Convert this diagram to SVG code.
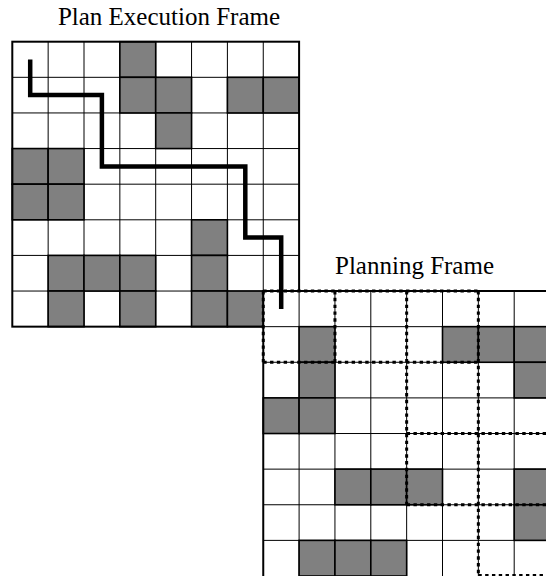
<svg xmlns="http://www.w3.org/2000/svg" width="546" height="576" viewBox="0 0 546 576">
<style>
.bg{fill:#fff}
.grid{stroke:#000;stroke-width:1;fill:none}
.obs{fill:#808080;stroke:#000;stroke-width:1.6}
.border{stroke:#000;stroke-width:2;fill:none}
.dot{stroke:#000;stroke-width:3;stroke-dasharray:3.4 3.4;fill:none}
.route{stroke:#000;stroke-width:4.5;fill:none;stroke-linecap:butt;stroke-linejoin:miter}
.label{font-family:"Liberation Serif","Times New Roman",serif;font-size:25px;fill:#000;text-anchor:middle}
</style>
<defs>
<rect id="c" width="35.85" height="35.62" class="obs"/>
</defs>
<rect x="0" y="0" width="546" height="576" fill="#fff"/>

<g id="plan-execution-frame">
<text class="label" x="169" y="25">Plan Execution Frame</text>
<rect class="bg" x="12.3" y="41.7" width="286.8" height="284.96"/>
<path class="grid" d="M48.15 41.7V326.66M84 41.7V326.66M119.85 41.7V326.66M155.7 41.7V326.66M191.55 41.7V326.66M227.4 41.7V326.66M263.25 41.7V326.66M12.3 77.32H299.1M12.3 112.94H299.1M12.3 148.56H299.1M12.3 184.18H299.1M12.3 219.8H299.1M12.3 255.42H299.1M12.3 291.04H299.1"/>
<use href="#c" x="119.85" y="41.7"/>
<use href="#c" x="119.85" y="77.32"/>
<use href="#c" x="155.7" y="77.32"/>
<use href="#c" x="227.4" y="77.32"/>
<use href="#c" x="263.25" y="77.32"/>
<use href="#c" x="155.7" y="112.94"/>
<use href="#c" x="12.3" y="148.56"/>
<use href="#c" x="48.15" y="148.56"/>
<use href="#c" x="12.3" y="184.18"/>
<use href="#c" x="48.15" y="184.18"/>
<use href="#c" x="191.55" y="219.8"/>
<use href="#c" x="48.15" y="255.42"/>
<use href="#c" x="84" y="255.42"/>
<use href="#c" x="119.85" y="255.42"/>
<use href="#c" x="191.55" y="255.42"/>
<use href="#c" x="48.15" y="291.04"/>
<use href="#c" x="119.85" y="291.04"/>
<use href="#c" x="191.55" y="291.04"/>
<use href="#c" x="227.4" y="291.04"/>
<rect class="border" x="12.3" y="41.7" width="286.8" height="284.96"/>
</g>

<g id="planning-frame">
<text class="label" x="414.5" y="274">Planning Frame</text>
<rect class="bg" x="263.25" y="291.04" width="283" height="285"/>
<path class="grid" d="M299.1 291.04V576M334.95 291.04V576M370.8 291.04V576M406.65 291.04V576M442.5 291.04V576M478.35 291.04V576M514.2 291.04V576M263.25 326.66H546M263.25 362.28H546M263.25 397.9H546M263.25 433.52H546M263.25 469.14H546M263.25 504.76H546M263.25 540.38H546"/>
<use href="#c" x="299.1" y="326.66"/>
<use href="#c" x="442.5" y="326.66"/>
<use href="#c" x="478.35" y="326.66"/>
<use href="#c" x="514.2" y="326.66"/>
<use href="#c" x="299.1" y="362.28"/>
<use href="#c" x="514.2" y="362.28"/>
<use href="#c" x="263.25" y="397.9"/>
<use href="#c" x="299.1" y="397.9"/>
<use href="#c" x="334.95" y="469.14"/>
<use href="#c" x="370.8" y="469.14"/>
<use href="#c" x="406.65" y="469.14"/>
<use href="#c" x="514.2" y="469.14"/>
<use href="#c" x="514.2" y="504.76"/>
<use href="#c" x="299.1" y="540.38"/>
<use href="#c" x="334.95" y="540.38"/>
<use href="#c" x="370.8" y="540.38"/>
<path class="border" d="M263.25 577V291.04H547"/>
</g>

<g id="sub-frames">
<path class="dot" d="M263.25 291.04H478.35"/>
<path class="dot" d="M263.25 291.04V362.28"/>
<path class="dot" d="M334.95 291.04V362.28"/>
<path class="dot" d="M263.25 362.28H478.35"/>
<path class="dot" d="M406.65 291.04V504.76"/>
<path class="dot" d="M478.35 291.04V577"/>
<path class="dot" d="M406.65 433.52H546"/>
<path class="dot" d="M406.65 504.76H546"/>
<path class="dot" d="M478.35 575.5H546"/>
</g>

<g id="connectors">
<path class="route" d="M30.2 59.5V95.1H101.9V166.4H245.3V237.6H281.2V308.9"/>
</g>
</svg>
